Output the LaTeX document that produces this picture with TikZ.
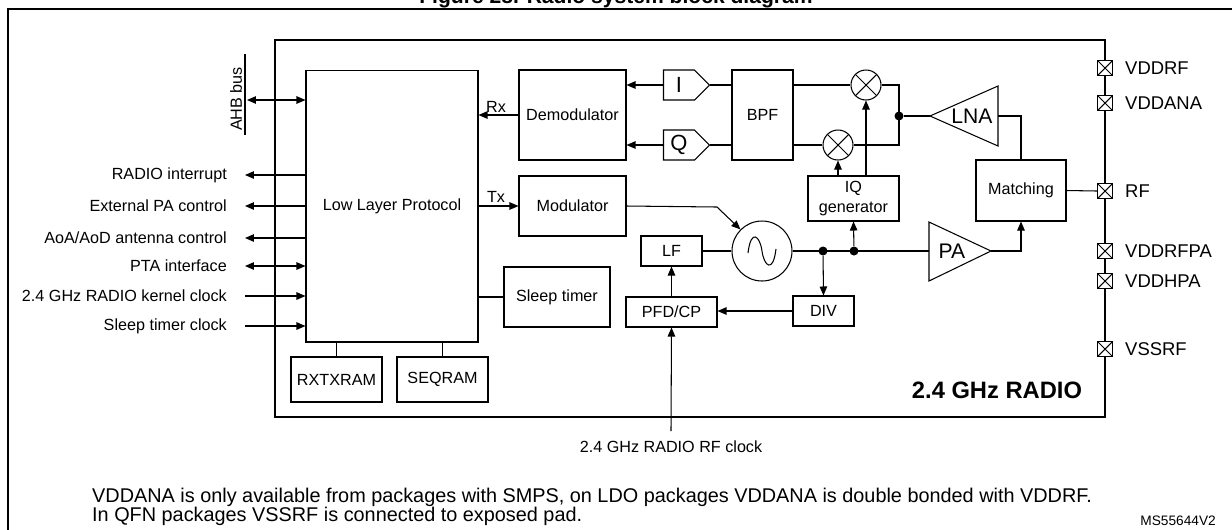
\documentclass[tikz,border=0pt]{standalone}
\usepackage{fontspec}
\setmainfont{Liberation Sans}
\usetikzlibrary{arrows.meta,shapes.symbols}

\begin{document}
\begin{tikzpicture}[x=0.02cm, y=-0.02cm, font=\fontsize{9.2}{11}\selectfont]
%% coordinates are in pixels of the 1232x529 drawing, y grows downwards
\tikzstyle{arc}=[-{Triangle[length=1.8mm,width=1.5mm]},line width=0.6pt]
\tikzstyle{biarc}=[{Triangle[length=1.8mm,width=1.5mm]}-{Triangle[length=1.8mm,width=1.5mm]},line width=0.6pt]
\tikzstyle{wire}=[line width=0.6pt]
\tikzstyle{block}=[draw,line width=0.6pt,inner sep=0pt,align=center]
\tikzstyle{mixer}=[draw,circle,line width=0.6pt,minimum size=0.6cm,inner sep=0pt,
  path picture={\draw (path picture bounding box.south west) -- (path picture bounding box.north east)
                      (path picture bounding box.north west) -- (path picture bounding box.south east);}]
\tikzstyle{buffer}=[draw,signal,signal to=east,signal pointer angle=90,line width=0.6pt,
  minimum width=0.92cm,minimum height=0.6cm,inner sep=0pt,font=\fontsize{12.5}{14}\selectfont]
\tikzstyle{pin}=[draw,fill=white,line width=0.6pt,minimum size=0.3cm,inner sep=0pt,
  path picture={\draw (path picture bounding box.south west) -- (path picture bounding box.north east)
                      (path picture bounding box.north west) -- (path picture bounding box.south east);}]
\tikzstyle{dot}=[circle,fill=black,inner sep=0pt,minimum size=0.18cm]
\useasboundingbox (0,0) rectangle (1232,529);
%% title and frames %%
\node[anchor=base,font=\bfseries\fontsize{12}{14}\selectfont] (title) at (616,3) {Figure 28. Radio system block diagram};
\draw[line width=1.1pt] (8,535) -- (8,9) -- (1240,9);
\draw[wire] (275,40) rectangle (1105,417);
\node[font=\bfseries\fontsize{13.5}{16}\selectfont] (radio) at (997,390) {2.4 GHz RADIO};
%% digital part %%
\node[block,minimum width=3.44cm,minimum height=5.44cm] (llp) at (392,206) {Low Layer Protocol};
\node[block,minimum width=1.82cm,minimum height=0.9cm] (rxtx) at (336.5,379.5) {RXTXRAM};
\node[block,minimum width=1.82cm,minimum height=0.9cm] (seq) at (442.5,379.5) {SEQRAM};
\draw[wire] (llp.south -| rxtx) -- (rxtx.north);
\draw[wire] (llp.south -| seq) -- (seq.north);
\node[block,minimum width=2.14cm,minimum height=1.8cm] (demod) at (572.5,115) {Demodulator};
\node[block,minimum width=2.14cm,minimum height=1.2cm] (mod) at (572.5,206) {Modulator};
\node[block,minimum width=2.12cm,minimum height=1.2cm] (sleep) at (557,297) {Sleep timer};
\draw[wire] (llp.east |- sleep) -- (sleep.west);
\draw[arc] (demod.west) -- (demod.west -| llp.east);
\node (rx) at (496,107) {Rx};
\draw[arc] (llp.east |- mod) -- (mod.west);
\node (tx) at (496,197) {Tx};
%% AHB bus %%
\draw[line width=1.6pt] (245,54) -- (245,135) coordinate (ahb);
\node[rotate=90] (ahblabel) at (236,99) {AHB bus};
\draw[biarc] (247,100) -- (llp.west |- 0,100);
%% external signals %%
\foreach \n/\y/\t/\s in {irq/175/{RADIO interrupt}/arc, extpa/206/{External PA control}/arc,
                         aoa/238/{AoA/AoD antenna control}/arc, pta/266/{PTA interface}/biarc}
{
  \node[anchor=east] (\n) at (233,\y) {\t};
  \coordinate (\n end) at (245,\y);
  \draw[\s] (llp.west |- \n end) -- (\n end);
}
\foreach \n/\y/\t in {kclk/296/2.4 GHz RADIO kernel clock, sclk/326/Sleep timer clock}
{
  \node[anchor=east] (\n) at (233,\y) {\t};
  \coordinate (\n end) at (245,\y);
  \draw[arc] (\n end) -- (llp.west |- \n end);
}
%% receive chain %%
\node[buffer] (ibuf) at (679,85) {I\hspace{2mm}};
\node[buffer] (qbuf) at (679,145) {Q\hspace{1.5mm}};
\draw[arc] (ibuf.west) -- (demod.east |- ibuf);
\draw[arc] (qbuf.west) -- (demod.east |- qbuf);
\node[block,minimum width=1.22cm,minimum height=1.8cm] (bpf) at (762.5,115) {BPF};
\draw[wire] (bpf.west |- ibuf) -- (ibuf.east);
\draw[wire] (bpf.west |- qbuf) -- (qbuf.east);
\node[mixer] (mixi) at (866,85) {};
\node[mixer] (mixq) at (838,145) {};
\draw[wire] (bpf.east |- mixi) -- (mixi.west);
\draw[wire] (bpf.east |- mixq) -- (mixq.west);
\node[dot] (rxj) at (899,116) {};
\draw[wire] (mixi.east) -- (mixi.east -| rxj) -- (mixq.east -| rxj) -- (mixq.east);
\coordinate (lnatip) at (930,116);
\draw[wire] (lnatip) -- (998,86) -- (998,146) -- cycle;
\node[font=\fontsize{12}{14}\selectfont] (lna) at (972,116) {LNA};
\draw[wire] (rxj) -- (lnatip);
\node[block,minimum width=1.8cm,minimum height=1.22cm] (match) at (1021,190.5) {Matching};
\draw[wire] (998,116) -- (match.north |- 0,116) -- (match.north);
\node[block,minimum width=1.82cm,minimum height=0.9cm] (iq) at (853.5,198.5) {IQ\\generator};
\draw[arc] (iq.north -| mixq) -- (mixq.south);
\draw[arc] (iq.north -| mixi) -- (mixi.south);
%% synthesizer and transmit chain %%
\node[draw,circle,line width=0.6pt,minimum size=1.2cm] (osc) at (762,251) {};
\draw[wire] (748,253) .. controls (751,228) and (760,236) .. (762,251) .. controls (764,266) and (773,274) .. (776,249);
\draw[arc] (mod.east) -- (717,207) -- (osc.north west);
\node[block,minimum width=1.22cm,minimum height=0.6cm] (lf) at (671.5,251) {LF};
\node[block,minimum width=1.82cm,minimum height=0.6cm] (pfd) at (671.5,312) {PFD/CP};
\node[block,minimum width=1.22cm,minimum height=0.6cm] (div) at (823.5,311) {DIV};
\draw[wire] (lf.east) -- (osc.west);
\draw[arc] (pfd.north -| lf) -- (lf.south);
\draw[arc] (div.west) -- (div.west -| pfd.east);
\coordinate (pabase) at (929,251);
\draw[wire] (929,222) -- (991,251) coordinate (patip) -- (929,281) -- cycle;
\node[font=\fontsize{12}{14}\selectfont] (pa) at (952,251) {PA};
\node[dot] (divj) at (823,251) {};
\node[dot] (iqj) at (854,251) {};
\draw[wire] (osc.east) -- (pabase);
\draw[arc] (divj) -- (div.north);
\draw[arc] (iqj) -- (iq.south);
\draw[arc] (patip) -- (match.south |- patip) -- (match.south);
\coordinate (rfclk) at (671,431);
\draw[arc] (rfclk) -- (pfd.south);
\node (rfclklabel) at (671,447) {2.4 GHz RADIO RF clock};
%% pins %%
\foreach \n/\y/\t in {vddrf/68/VDDRF, vddana/103/VDDANA, rf/191/RF, vddrfpa/251/VDDRFPA,
                      vddhpa/281/VDDHPA, vssrf/349/VSSRF}
{
  \node[pin] (\n) at (1105,\y) {};
  \node[anchor=west,font=\fontsize{10.5}{12}\selectfont] at (1119,\y) {\t};
}
\draw[wire] (match.east) -- (rf.west);
%% notes %%
\node[anchor=west,font=\fontsize{11.3}{13}\selectfont] (note1) at (86,497) {VDDANA is only available from packages with SMPS, on LDO packages VDDANA is double bonded with VDDRF.};
\node[anchor=west,font=\fontsize{11.3}{13}\selectfont] (note2) at (86,516) {In QFN packages VSSRF is connected to exposed pad.};
\node[anchor=east,font=\fontsize{7.8}{9}\selectfont] (ref) at (1222,521) {MS55644V2};
\end{tikzpicture}
\end{document}
